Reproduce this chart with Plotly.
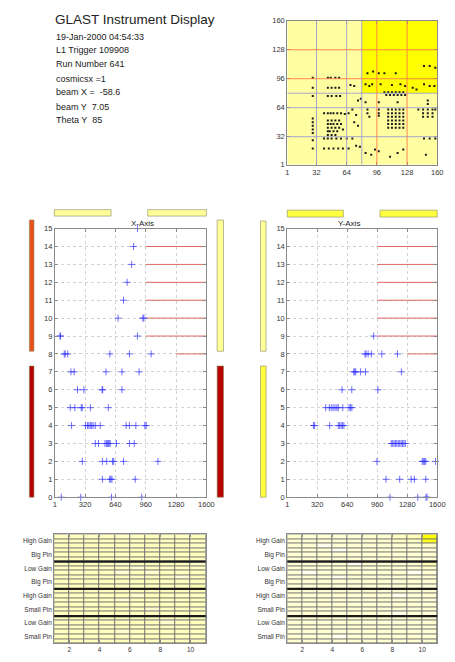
import plotly.graph_objects as go

W, H = 455, 662

# ---- event header ----
title_text = "GLAST Instrument Display"
info_lines = ["19-Jan-2000 04:54:33", "L1 Trigger 109908", "Run Number 641",
              "cosmicsx =1", "beam X =  -58.6", "beam Y  7.05", "Theta Y  85"]

# ---- tracker hit map (strip column vs strip row) ----
quad_edges = [1, 80.5, 160]
quad_level = [[0, 0], [0, 1]]
map_ticks = [1, 32, 64, 96, 128, 160]
tower_lines_blue = [32, 64, 80]
tower_lines_red = [96, 128]

hit_col = [28, 28, 28, 28, 28, 28, 28, 28, 28, 28,
           44, 47, 52, 56, 44, 48, 52, 56, 44, 48, 53, 57,
           40, 44, 47, 50, 54, 58, 62, 66, 44, 48, 52, 56, 44, 47, 50, 54, 58,
           44, 48, 52, 56, 44, 46, 50, 54, 60, 44, 48, 52,
           40, 44, 48, 53, 58, 64, 40, 45, 50, 55, 60, 66,
           68, 72, 76, 79, 70, 74, 72, 76, 70, 74, 78,
           86, 92, 84, 88, 91, 84, 86, 86, 88, 84, 90, 94,
           98, 104, 116, 100, 112, 121, 126,
           104, 108, 112, 116, 120, 124, 106, 110, 114, 118, 122, 126,
           98, 118, 98, 98, 98,
           108, 112, 116, 120, 124, 108, 112, 116, 120, 124,
           108, 112, 116, 120, 124, 108, 112, 116, 120, 124,
           108, 112, 116, 120, 124, 108, 112, 116, 120, 124,
           98, 110, 118, 124,
           134, 138, 146, 152, 158, 146, 152, 157, 150, 150,
           140, 145, 150, 155, 158, 145, 150, 155, 145, 150, 155,
           146, 152, 158, 148]
hit_row = [19, 28, 36, 40, 44, 48, 52, 77, 86, 97,
           97, 97, 97, 97, 86, 86, 86, 86, 77, 77, 77, 77,
           58, 58, 58, 58, 58, 58, 57, 58, 50, 50, 50, 50, 46, 46, 46, 46, 46,
           42, 42, 42, 42, 38, 38, 38, 38, 40, 34, 34, 34,
           30, 30, 30, 30, 30, 30, 19, 19, 19, 19, 19, 19,
           89, 88, 72, 74, 62, 56, 48, 44, 30, 22, 21,
           102, 104, 90, 88, 90, 70, 62, 58, 54, 14, 12, 18,
           102, 102, 102, 90, 89, 90, 88,
           81, 81, 81, 81, 81, 81, 78, 78, 78, 78, 78, 78,
           70, 70, 62, 58, 55,
           62, 62, 62, 62, 62, 58, 58, 58, 58, 58,
           54, 54, 54, 54, 54, 50, 50, 50, 50, 50,
           46, 46, 46, 46, 46, 42, 42, 42, 42, 42,
           16, 10, 14, 18,
           86, 84, 110, 110, 108, 90, 88, 88, 72, 68,
           62, 62, 62, 62, 62, 58, 58, 58, 54, 54, 54,
           30, 30, 30, 12]

# ---- layer views ----
strip_ticks = [1, 320, 640, 960, 1280, 1600]
layer_ticks = list(range(16))

# dead strip ranges per layer: layer, first strip, last strip
dead_layer = [14, 13, 12, 11, 10, 9, 8]
dead_from = [960, 960, 960, 960, 960, 960, 1280]
dead_to = [1600, 1600, 1600, 1600, 1600, 1600, 1600]

x_strip = [873, 832, 811, 764, 726, 668, 930, 940, 55, 62, 873,
           100, 110, 137, 582, 788, 1017,
           171, 205, 541, 709, 890,
           240, 308, 500, 506, 709,
           164, 212, 280, 290, 377, 565,
           178, 325, 345, 360, 375, 390, 405, 428, 480, 753, 788, 856, 950, 965,
           428, 462, 530, 545, 555, 565, 575, 585, 651, 788, 839,
           291, 503, 548, 610, 622, 726, 1089,
           503, 580, 592, 604, 849,
           69, 274, 599, 918]
x_layer = [15, 14, 13, 12, 11, 10, 10, 10, 9, 9, 9,
           8, 8, 8, 8, 8, 8,
           7, 7, 7, 7, 7,
           6, 6, 6, 6, 6,
           5, 5, 5, 5, 5, 5,
           4, 4, 4, 4, 4, 4, 4, 4, 4, 4, 4, 4, 4, 4,
           3, 3, 3, 3, 3, 3, 3, 3, 3, 3, 3,
           2, 2, 2, 2, 2, 2, 2,
           1, 1, 1, 1, 1,
           0, 0, 0, 0]

y_strip = [922,
           830, 840, 863, 897, 1009, 1176,
           710, 720, 731, 783, 835, 1218,
           585, 689, 967,
           411, 450, 470, 490, 510, 530, 545, 592, 660, 675, 690,
           280, 292, 453, 545, 560, 575, 590, 605,
           1110, 1125, 1140, 1155, 1170, 1185, 1200, 1215, 1230, 1245, 1260,
           957, 1440, 1452, 1465, 1478, 1582,
           1054, 1200, 1322, 1357, 1478,
           1096, 1392, 1480, 1492]
y_layer = [9,
           8, 8, 8, 8, 8, 8,
           7, 7, 7, 7, 7, 7,
           6, 6, 6,
           5, 5, 5, 5, 5, 5, 5, 5, 5, 5, 5,
           4, 4, 4, 4, 4, 4, 4, 4,
           3, 3, 3, 3, 3, 3, 3, 3, 3, 3, 3,
           2, 2, 2, 2, 2, 2,
           1, 1, 1, 1, 1,
           0, 0, 0, 0]

# ---- calorimeter readout ----
cal_labels = ["High Gain", "Big Pin", "Low Gain", "Big Pin",
              "High Gain", "Small Pin", "Low Gain", "Small Pin"]
cal_ticks = [2, 4, 6, 8, 10]
cal_left = [
    [30, 31, 29, 30, 28, 30, 31, 29, 30, 32],
    [31, 30, 30, 29, 30, 31, 30, 30, 29, 30],
    [29, 30, 31, 30, 30, 29, 30, 31, 30, 28],
    [30, 29, 30, 28, 31, 30, 29, 30, 31, 30],
    [30, 31, 29, 30, 30, 30, 31, 29, 30, 31],
    [29, 30, 30, 31, 29, 30, 30, 30, 31, 30],
    [30, 30, 29, 30, 24, 30, 29, 30, 30, 26],
    [28, 30, 30, 29, 30, 22, 30, 28, 30, 30],
    [30, 29, 31, 30, 22, 30, 24, 30, 29, 30],
    [30, 30, 30, 29, 30, 30, 30, 30, 22, 31],
    [29, 31, 30, 30, 29, 31, 30, 29, 30, 30],
    [30, 30, 29, 31, 30, 30, 29, 30, 30, 35],
    [31, 30, 30, 30, 29, 30, 30, 31, 30, 30],
    [30, 29, 31, 30, 30, 24, 31, 30, 29, 30],
    [29, 30, 30, 29, 22, 30, 30, 29, 30, 31],
    [30, 31, 29, 30, 30, 29, 30, 30, 31, 30],
    [30, 30, 30, 31, 30, 30, 24, 30, 30, 29],
    [31, 29, 30, 30, 31, 30, 30, 29, 30, 30],
    [30, 30, 31, 29, 30, 30, 30, 30, 29, 30],
    [29, 30, 30, 30, 29, 31, 30, 24, 30, 31],
    [30, 31, 29, 30, 30, 30, 29, 30, 30, 30],
    [30, 29, 30, 31, 24, 30, 30, 30, 31, 29],
    [31, 30, 30, 30, 30, 29, 31, 30, 30, 30],
    [30, 30, 29, 30, 31, 30, 30, 29, 30, 31],
]
cal_right = [
    [24, 22, 23, 21, 22, 24, 23, 30, 32, 100],
    [22, 21, 23, 22, 21, 22, 23, 26, 28, 90],
    [23, 22, 10, 22, 23, 21, 22, 23, 22, 24],
    [20, 22, 21, 8, 22, 23, 21, 22, 23, 22],
    [22, 21, 23, 22, 21, 22, 23, 21, 22, 23],
    [21, 23, 22, 21, 23, 22, 21, 23, 22, 21],
    [22, 21, 23, 22, 8, 23, 22, 21, 22, 34],
    [23, 22, 21, 23, 22, 21, 23, 22, 23, 26],
    [21, 10, 22, 21, 23, 22, 21, 23, 10, 22],
    [22, 23, 21, 10, 22, 21, 23, 22, 21, 23],
    [23, 21, 22, 23, 21, 23, 22, 21, 23, 22],
    [21, 22, 23, 21, 22, 21, 22, 23, 22, 21],
    [22, 23, 21, 22, 23, 22, 21, 22, 23, 22],
    [23, 21, 22, 23, 21, 23, 22, 10, 21, 23],
    [21, 22, 23, 21, 22, 21, 23, 22, 23, 21],
    [22, 21, 22, 23, 21, 22, 21, 23, 22, 22],
    [23, 22, 21, 22, 23, 21, 22, 21, 21, 23],
    [21, 23, 22, 21, 22, 23, 21, 10, 22, 21],
    [22, 21, 23, 22, 21, 22, 23, 22, 23, 22],
    [23, 22, 21, 23, 22, 21, 22, 21, 22, 23],
    [21, 23, 22, 21, 23, 22, 23, 22, 21, 22],
    [22, 21, 23, 22, 21, 23, 21, 23, 22, 21],
    [23, 22, 21, 10, 22, 21, 22, 21, 23, 22],
    [22, 23, 22, 21, 23, 22, 21, 22, 22, 23],
]

FONT = "Liberation Sans, Arial, sans-serif"
FRAME = "#8a8a8a"


def px_x(p):
    return p / W


def px_y(p):
    return 1 - p / H


fig = go.Figure()

# hit map
fig.add_trace(go.Heatmap(x=quad_edges, y=quad_edges, z=quad_level,
                         colorscale=[[0, "#ffffa2"], [1, "#ffff00"]],
                         showscale=False, hoverinfo="skip",
                         xaxis="x", yaxis="y"))
fig.add_trace(go.Scatter(x=hit_col, y=hit_row, mode="markers",
                         marker=dict(symbol="square", size=2, color="#1a1a1a"),
                         xaxis="x", yaxis="y", hoverinfo="skip"))

# layer views: dead strip segments and hits
seg_x, seg_y = [], []
for lay, a, b in zip(dead_layer, dead_from, dead_to):
    seg_x += [a, b, None]
    seg_y += [lay, lay, None]
for ax, ay, sx, sl in (("x2", "y2", x_strip, x_layer), ("x3", "y3", y_strip, y_layer)):
    fig.add_trace(go.Scatter(x=seg_x, y=seg_y, mode="lines",
                             line=dict(color="#e06a64", width=1),
                             xaxis=ax, yaxis=ay, hoverinfo="skip"))
    fig.add_trace(go.Scatter(x=sx, y=sl, mode="markers", cliponaxis=False,
                             marker=dict(symbol="cross-thin-open", size=5,
                                         color="rgba(50,50,255,0.7)",
                                         line=dict(width=1, color="rgba(50,50,255,0.7)")),
                             xaxis=ax, yaxis=ay, hoverinfo="skip"))

# calorimeter grids
ncols = len(cal_left[0])
nrows = len(cal_left)
col_c = [c + 1.5 for c in range(ncols)]
row_c = [r + 0.5 for r in range(nrows)]
cal_scale = [[0, "#ffffff"], [0.22, "#ffffd4"], [0.32, "#ffffb8"], [1, "#ffff00"]]
for ax, ay, z in (("x4", "y4", cal_left), ("x5", "y5", cal_right)):
    fig.add_trace(go.Heatmap(x=col_c, y=row_c, z=z, zmin=0, zmax=100,
                             colorscale=cal_scale, showscale=False,
                             xgap=1, ygap=1, hoverinfo="skip",
                             xaxis=ax, yaxis=ay))

shapes = []
# tower boundaries on the hit map
for v in tower_lines_blue + tower_lines_red:
    col = "#9c9cd4" if v in tower_lines_blue else "#ff7a4a"
    shapes.append(dict(type="line", xref="x", yref="y", x0=v, x1=v, y0=1, y1=160,
                       line=dict(color=col, width=0.9)))
    shapes.append(dict(type="line", xref="x", yref="y", x0=1, x1=160, y0=v, y1=v,
                       line=dict(color=col, width=0.9)))

# calorimeter cell borders and group separators
group_rows = nrows // 4
for ax, ay in (("x4", "y4"), ("x5", "y5")):
    shapes.append(dict(type="rect", xref=f"{ax} domain", yref=f"{ay} domain",
                       x0=0, x1=1, y0=0, y1=1, layer="below",
                       fillcolor="#707070", line=dict(width=0)))
    for g in range(1, 4):
        shapes.append(dict(type="line", xref=f"{ax} domain", yref=ay,
                           x0=0, x1=1, y0=g * group_rows, y1=g * group_rows,
                           line=dict(color="#1a1a1a", width=2.2)))


def bar(x0, y0, x1, y1, color):
    shapes.append(dict(type="rect", xref="paper", yref="paper",
                       x0=px_x(x0), x1=px_x(x1), y0=px_y(y1), y1=px_y(y0),
                       fillcolor=color, line=dict(color="#8a8a60", width=0.6)))


PALE, BRIGHT, ORANGE, DARKRED = "#ffff99", "#ffff40", "#e8501a", "#b80000"
bar(53.5, 208.5, 111.5, 215, PALE)
bar(149, 208.5, 209, 215, PALE)
bar(291.7, 209, 349, 216, BRIGHT)
bar(386.5, 209, 445, 216, BRIGHT)
bar(28, 219, 32.7, 352, ORANGE)
bar(28, 367, 32.7, 500, DARKRED)
bar(220, 219, 226.5, 352, PALE)
bar(220, 367, 226.5, 500, DARKRED)
bar(264.3, 220, 270, 352, PALE)
bar(264.3, 367, 270, 500, BRIGHT)

annotations = [dict(text=title_text, x=px_x(52), y=px_y(16), xref="paper", yref="paper",
                    xanchor="left", yanchor="middle", showarrow=False,
                    font=dict(family=FONT, size=13.5, color="#222"))]
info_y = [33, 47, 61, 76, 89, 104, 118]
for line, yy in zip(info_lines, info_y):
    annotations.append(dict(text=line, x=px_x(53), y=px_y(yy), xref="paper", yref="paper",
                            xanchor="left", yanchor="middle", showarrow=False,
                            font=dict(family=FONT, size=9, color="#222")))
annotations.append(dict(text="X-Axis", x=px_x(130), y=px_y(215.5), xref="paper", yref="paper",
                        showarrow=False, font=dict(family=FONT, size=8, color="#222")))
annotations.append(dict(text="Y-Axis", x=px_x(368), y=px_y(215.5), xref="paper", yref="paper",
                        showarrow=False, font=dict(family=FONT, size=8, color="#222")))


def axis(domain, rng, tickvals, ticktext=None, grid=False, size=7.5, reverse=False):
    d = dict(domain=domain, range=rng[::-1] if reverse else rng,
             tickvals=tickvals, ticks="inside", ticklen=3, tickcolor=FRAME,
             showline=True, linecolor=FRAME, linewidth=1, mirror="ticks",
             zeroline=False, showgrid=grid, fixedrange=True,
             tickfont=dict(family=FONT, size=size, color="#333"))
    if ticktext is not None:
        d["ticktext"] = ticktext
    if grid:
        d.update(gridcolor="#d2d2d2", griddash="dot", gridwidth=1)
    return d


top_x = [px_x(291.7), px_x(445)]
left_x = [px_x(54), px_x(209)]
mid_y = [px_y(500), px_y(227.7)]
cal_y = [px_y(648.3), px_y(537.7)]
cal_lx = [px_x(53.3), px_x(208.3)]

label_pos = [3 * k + 1.5 for k in range(len(cal_labels))]

fig.update_layout(
    width=W, height=H, margin=dict(l=0, r=0, t=0, b=0),
    paper_bgcolor="white", plot_bgcolor="white", showlegend=False,
    shapes=shapes, annotations=annotations,
    xaxis=axis(top_x, [1, 160], map_ticks, size=7.5),
    yaxis=axis([px_y(163), px_y(17)], [1, 160], map_ticks, size=7.5),
    xaxis2=dict(axis(left_x, [1, 1600], strip_ticks, grid=True), anchor="y2"),
    yaxis2=dict(axis(mid_y, [0, 15], layer_ticks, grid=True), anchor="x2"),
    xaxis3=dict(axis(top_x, [1, 1600], strip_ticks, grid=True), anchor="y3"),
    yaxis3=dict(axis(mid_y, [0, 15], layer_ticks, grid=True), anchor="x3"),
    xaxis4=dict(axis(cal_lx, [1, 11], cal_ticks, size=6.5), anchor="y4"),
    yaxis4=dict(axis(cal_y, [0, nrows], label_pos, cal_labels, size=6.5, reverse=True),
                anchor="x4", ticks=""),
    xaxis5=dict(axis(top_x, [1, 11], cal_ticks, size=6.5), anchor="y5"),
    yaxis5=dict(axis(cal_y, [0, nrows], label_pos, cal_labels, size=6.5, reverse=True),
                anchor="x5", ticks=""),
)

fig.write_html("out.html")
